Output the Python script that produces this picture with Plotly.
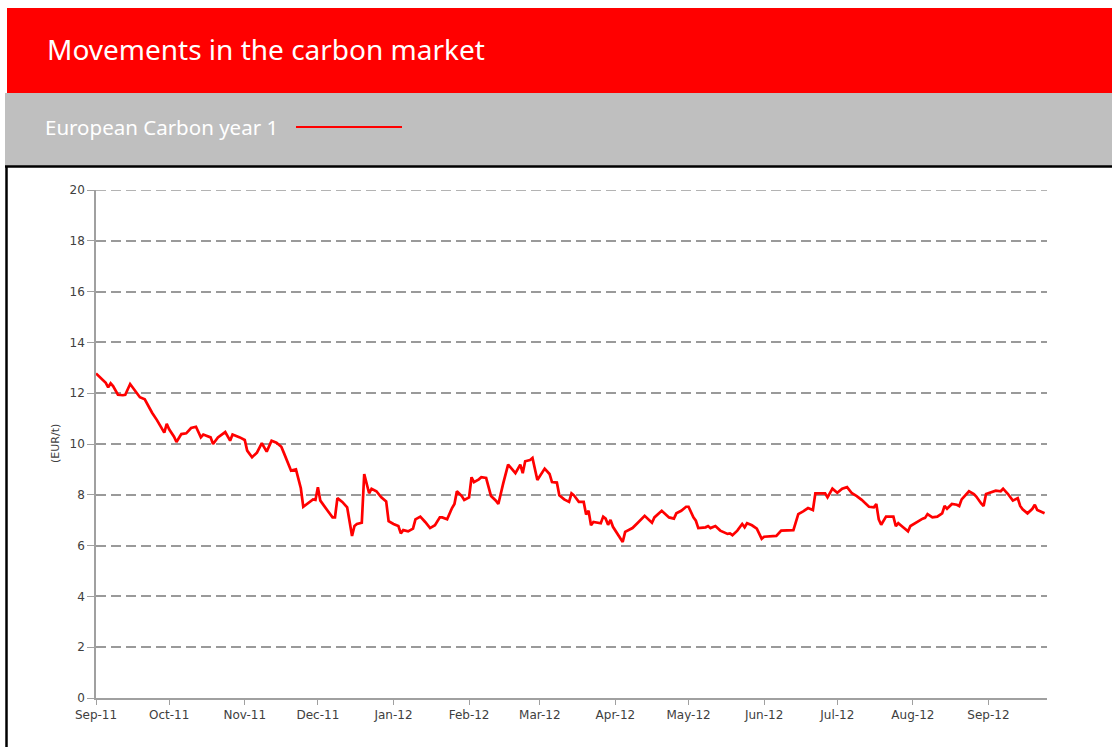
import plotly.graph_objects as go

# ---------------- data ----------------
dates = [
    "2011-09-01", "2011-09-03", "2011-09-05", "2011-09-06", "2011-09-07", "2011-09-08", "2011-09-10",
    "2011-09-12", "2011-09-13", "2011-09-15", "2011-09-17", "2011-09-19", "2011-09-21", "2011-09-23",
    "2011-09-24", "2011-09-26", "2011-09-28", "2011-09-29", "2011-09-30", "2011-10-01", "2011-10-03",
    "2011-10-04", "2011-10-06", "2011-10-08", "2011-10-10", "2011-10-12", "2011-10-14", "2011-10-15",
    "2011-10-18", "2011-10-19", "2011-10-21", "2011-10-24", "2011-10-26", "2011-10-27", "2011-10-30",
    "2011-11-01", "2011-11-02", "2011-11-03", "2011-11-04", "2011-11-06", "2011-11-08", "2011-11-10",
    "2011-11-12", "2011-11-14", "2011-11-16", "2011-11-17", "2011-11-19", "2011-11-20", "2011-11-22",
    "2011-11-24", "2011-11-25", "2011-11-27", "2011-11-29", "2011-11-30", "2011-12-01", "2011-12-02",
    "2011-12-04", "2011-12-05", "2011-12-07", "2011-12-08", "2011-12-09", "2011-12-11", "2011-12-13",
    "2011-12-14", "2011-12-15", "2011-12-16", "2011-12-17", "2011-12-19", "2011-12-20", "2011-12-22",
    "2011-12-23", "2011-12-25", "2011-12-27", "2011-12-29", "2011-12-30", "2012-01-01", "2012-01-03",
    "2012-01-04", "2012-01-05", "2012-01-07", "2012-01-09", "2012-01-10", "2012-01-12", "2012-01-14",
    "2012-01-16", "2012-01-18", "2012-01-20", "2012-01-21", "2012-01-23", "2012-01-25", "2012-01-26",
    "2012-01-27", "2012-01-29", "2012-01-30", "2012-02-01", "2012-02-02", "2012-02-03", "2012-02-05",
    "2012-02-06", "2012-02-08", "2012-02-09", "2012-02-10", "2012-02-12", "2012-02-13", "2012-02-15",
    "2012-02-17", "2012-02-18", "2012-02-20", "2012-02-22", "2012-02-23", "2012-02-24", "2012-02-26",
    "2012-02-27", "2012-02-29", "2012-03-03", "2012-03-05", "2012-03-06", "2012-03-08", "2012-03-09",
    "2012-03-11", "2012-03-13", "2012-03-14", "2012-03-15", "2012-03-17", "2012-03-19", "2012-03-20",
    "2012-03-21", "2012-03-22", "2012-03-23", "2012-03-26", "2012-03-27", "2012-03-28", "2012-03-29",
    "2012-03-30", "2012-03-31", "2012-04-02", "2012-04-03", "2012-04-04", "2012-04-05", "2012-04-08",
    "2012-04-10", "2012-04-13", "2012-04-16", "2012-04-17", "2012-04-20", "2012-04-23", "2012-04-25",
    "2012-04-26", "2012-04-28", "2012-04-30", "2012-05-01", "2012-05-03", "2012-05-04", "2012-05-05",
    "2012-05-08", "2012-05-09", "2012-05-10", "2012-05-12", "2012-05-14", "2012-05-17", "2012-05-18",
    "2012-05-19", "2012-05-21", "2012-05-23", "2012-05-24", "2012-05-25", "2012-05-27", "2012-05-29",
    "2012-05-31", "2012-06-01", "2012-06-06", "2012-06-08", "2012-06-13", "2012-06-15", "2012-06-17",
    "2012-06-19", "2012-06-21", "2012-06-22", "2012-06-26", "2012-06-27", "2012-06-29", "2012-07-01",
    "2012-07-03", "2012-07-05", "2012-07-07", "2012-07-09", "2012-07-11", "2012-07-12", "2012-07-14",
    "2012-07-16", "2012-07-17", "2012-07-18", "2012-07-19", "2012-07-21", "2012-07-24", "2012-07-25",
    "2012-07-26", "2012-07-28", "2012-07-30", "2012-07-31", "2012-08-03", "2012-08-05", "2012-08-06",
    "2012-08-07", "2012-08-09", "2012-08-11", "2012-08-13", "2012-08-14", "2012-08-15", "2012-08-17",
    "2012-08-19", "2012-08-20", "2012-08-21", "2012-08-24", "2012-08-26", "2012-08-27", "2012-08-29",
    "2012-08-30", "2012-08-31", "2012-09-02", "2012-09-04", "2012-09-06", "2012-09-07", "2012-09-09",
    "2012-09-11", "2012-09-13", "2012-09-14", "2012-09-15", "2012-09-17", "2012-09-19", "2012-09-20",
    "2012-09-21", "2012-09-24",
]

prices = [
    12.78, 12.58, 12.41, 12.23, 12.39, 12.28, 11.94,
    11.92, 11.94, 12.36, 12.10, 11.84, 11.76, 11.37,
    11.23, 10.94, 10.62, 10.45, 10.79, 10.58, 10.29,
    10.08, 10.39, 10.42, 10.63, 10.68, 10.26, 10.37,
    10.26, 10.00, 10.26, 10.47, 10.13, 10.37, 10.26,
    10.16, 9.74, 9.61, 9.48, 9.66, 10.03, 9.70,
    10.13, 10.05, 9.89, 9.66, 9.21, 8.95, 9.00,
    8.26, 7.53, 7.69, 7.82, 7.80, 8.30, 7.77,
    7.53, 7.37, 7.11, 7.11, 7.87, 7.72, 7.51,
    7.01, 6.38, 6.77, 6.85, 6.90, 8.82, 8.06,
    8.24, 8.14, 7.90, 7.74, 6.96, 6.85, 6.77,
    6.48, 6.61, 6.56, 6.67, 7.03, 7.14, 6.93,
    6.69, 6.80, 7.11, 7.11, 7.04, 7.48, 7.64,
    8.14, 7.95, 7.80, 7.90, 8.69, 8.50, 8.61,
    8.69, 8.66, 8.24, 7.95, 7.77, 7.64, 8.45,
    9.19, 9.08, 8.85, 9.19, 8.85, 9.32, 9.37,
    9.45, 8.58, 9.03, 8.82, 8.50, 8.48, 7.98,
    7.82, 7.72, 8.06, 7.98, 7.72, 7.72, 7.22,
    7.37, 6.80, 6.93, 6.88, 7.14, 7.06, 6.82,
    7.01, 6.74, 6.43, 6.30, 6.14, 6.54, 6.69,
    6.88, 7.17, 6.90, 7.11, 7.37, 7.11, 7.06,
    7.27, 7.37, 7.53, 7.53, 7.11, 6.98, 6.69,
    6.72, 6.77, 6.69, 6.77, 6.59, 6.46, 6.48,
    6.41, 6.59, 6.85, 6.72, 6.88, 6.80, 6.67,
    6.27, 6.35, 6.38, 6.59, 6.61, 7.24, 7.35,
    7.48, 7.40, 8.06, 8.06, 7.90, 8.24, 8.08,
    8.24, 8.30, 8.06, 7.95, 7.80, 7.72, 7.53,
    7.51, 7.64, 7.03, 6.82, 7.14, 7.14, 6.77,
    6.88, 6.72, 6.56, 6.77, 6.96, 7.06, 7.09,
    7.24, 7.11, 7.14, 7.27, 7.56, 7.45, 7.64,
    7.61, 7.56, 7.82, 8.14, 8.03, 7.93, 7.66,
    7.56, 8.03, 8.11, 8.16, 8.14, 8.24, 8.03,
    7.77, 7.87, 7.56, 7.43, 7.27, 7.45, 7.61,
    7.40, 7.27,
]

month_ticks = ["2011-09-01", "2011-10-01", "2011-11-01", "2011-12-01", "2012-01-01",
               "2012-02-01", "2012-03-01", "2012-04-01", "2012-05-01", "2012-06-01",
               "2012-07-01", "2012-08-01", "2012-09-01"]
month_labels = ["Sep-11", "Oct-11", "Nov-11", "Dec-11", "Jan-12", "Feb-12", "Mar-12",
                "Apr-12", "May-12", "Jun-12", "Jul-12", "Aug-12", "Sep-12"]
y_ticks = [0, 2, 4, 6, 8, 10, 12, 14, 16, 18, 20]

title_text = "Movements in the carbon market"
series_name = "European Carbon year 1"
y_title = "(EUR/t)"

# ---------------- layout helpers ----------------
W, H = 1112, 747
L, R, T, B = 96, 1047, 190, 698


def px(x):
    return (x - L) / (R - L)


def py(y):
    return (B - y) / (B - T)


RED = "#FF0000"
GRAY_BAND = "#BFBFBF"
AXIS_GRAY = "#A0A0A0"
GRID_GRAY = "#9A9A9A"
TXT = "#404040"

fig = go.Figure()
fig.add_trace(go.Scatter(
    x=dates, y=prices, mode="lines", name=series_name,
    line=dict(color=RED, width=2.7), showlegend=False,
))

shapes = [
    dict(type="rect", xref="paper", yref="paper", x0=px(7), x1=px(1112), y0=py(93), y1=py(8),
         fillcolor=RED, line=dict(width=0)),
    dict(type="rect", xref="paper", yref="paper", x0=px(5), x1=px(1112), y0=py(166), y1=py(93),
         fillcolor=GRAY_BAND, line=dict(width=0)),
    dict(type="line", xref="paper", yref="paper", x0=px(5), x1=px(1112), y0=py(166.5), y1=py(166.5),
         line=dict(color="black", width=2.5)),
    dict(type="line", xref="paper", yref="paper", x0=px(6.5), x1=px(6.5), y0=py(166), y1=py(747),
         line=dict(color="black", width=2.5)),
    dict(type="line", xref="paper", yref="paper", x0=px(296), x1=px(402), y0=py(127), y1=py(127),
         line=dict(color=RED, width=2)),
    # top gridline at the range edge (Plotly omits it)
    dict(type="line", xref="paper", yref="y", x0=0, x1=1, y0=y_ticks[-1], y1=y_ticks[-1],
         line=dict(color=GRID_GRAY, width=1.5, dash="10px,5px"), layer="below"),
]

annotations = [
    dict(text=title_text, xref="paper", yref="paper", x=px(45), y=py(49), xanchor="left",
         yanchor="middle", showarrow=False, font=dict(family="Noto Sans", size=28, color="white")),
    dict(text=series_name, xref="paper", yref="paper", x=px(43), y=py(127), xanchor="left",
         yanchor="middle", showarrow=False, font=dict(family="Noto Sans", size=20.5, color="white")),
    dict(text=y_title, xref="paper", yref="paper", x=px(55), y=py(444), xanchor="center",
         yanchor="middle", textangle=-90, showarrow=False,
         font=dict(family="DejaVu Sans", size=11, color=TXT)),
]

fig.update_layout(
    width=W, height=H,
    margin=dict(l=L, r=W - R, t=T, b=H - B, pad=0),
    paper_bgcolor="white", plot_bgcolor="white",
    shapes=shapes, annotations=annotations,
    xaxis=dict(
        type="date", range=["2011-09-01", "2012-09-25"],
        tickmode="array", tickvals=month_ticks, ticktext=month_labels,
        ticks="outside", ticklen=5, tickcolor=AXIS_GRAY, tickwidth=1.2,
        showgrid=False, zeroline=False,
        showline=True, linecolor=AXIS_GRAY, linewidth=1.5,
        tickfont=dict(family="DejaVu Sans", size=12, color=TXT),
    ),
    yaxis=dict(
        range=[0, 20], tickmode="array", tickvals=y_ticks,
        ticks="outside", ticklen=7, tickcolor=AXIS_GRAY, tickwidth=1.2,
        showgrid=True, gridcolor=GRID_GRAY, gridwidth=1.5, griddash="10px,5px",
        zeroline=False, showline=True, linecolor=AXIS_GRAY, linewidth=1.5,
        tickfont=dict(family="DejaVu Sans", size=12, color=TXT),
    ),
)

fig.write_html("out.html", post_script="document.body.style.margin='0px';",
               config={"displayModeBar": False})
